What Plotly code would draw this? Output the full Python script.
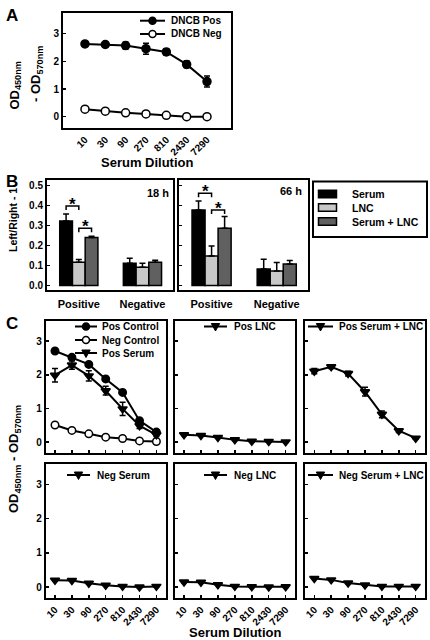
import plotly.graph_objects as go

# ---------------- data ----------------
dilutions = ["10", "30", "90", "270", "810", "2430", "7290"]

# Panel A
a_pos = [2.63, 2.61, 2.57, 2.46, 2.34, 1.89, 1.27]
a_pos_err = [0.05, 0.07, 0.12, 0.20, 0.12, 0.12, 0.20]
a_neg = [0.27, 0.20, 0.14, 0.10, 0.05, 0.00, 0.00]
a_neg_err = [0.02, 0.02, 0.02, 0.02, 0.02, 0.02, 0.02]

# Panel B
groups = ["Positive", "Negative"]
b_series = ["Serum", "LNC", "Serum + LNC"]
b18_serum = [0.323, 0.112]
b18_serum_err = [0.035, 0.025]
b18_lnc = [0.117, 0.092]
b18_lnc_err = [0.013, 0.020]
b18_sl = [0.240, 0.117]
b18_sl_err = [0.007, 0.010]
b66_serum = [0.378, 0.083]
b66_serum_err = [0.045, 0.049]
b66_lnc = [0.148, 0.073]
b66_lnc_err = [0.050, 0.042]
b66_sl = [0.287, 0.108]
b66_sl_err = [0.058, 0.017]

# Panel C
pos_control = [2.71, 2.52, 2.31, 1.88, 1.48, 0.64, 0.30]
pos_control_err = [0.04, 0.05, 0.06, 0.05, 0.04, 0.05, 0.04]
neg_control = [0.51, 0.35, 0.25, 0.15, 0.11, 0.04, 0.02]
neg_control_err = [0.02, 0.02, 0.02, 0.02, 0.02, 0.02, 0.02]
pos_serum = [1.99, 2.29, 1.97, 1.53, 0.99, 0.49, 0.22]
pos_serum_err = [0.20, 0.12, 0.15, 0.13, 0.20, 0.08, 0.05]
pos_lnc = [0.22, 0.20, 0.14, 0.07, 0.03, 0.02, 0.01]
pos_serum_lnc = [2.11, 2.24, 2.04, 1.50, 0.83, 0.34, 0.12]
pos_serum_lnc_err = [0.08, 0.05, 0.07, 0.13, 0.10, 0.05, 0.03]
neg_serum = [0.20, 0.19, 0.11, 0.05, 0.02, 0.00, 0.02]
neg_lnc = [0.15, 0.14, 0.07, 0.02, 0.01, 0.00, 0.01]
neg_serum_lnc = [0.25, 0.21, 0.12, 0.06, 0.02, 0.02, 0.02]
small_err = [0.02] * 7

# ---------------- layout helpers ----------------
W, H = 430, 640
FONT = "Liberation Sans, Arial, Helvetica, sans-serif"
BLACK = "#000000"
LIGHT = "#c8c8c8"
DARK = "#606060"


def fx(px):
    return px / W


def fy(py):
    return 1 - py / H


fig = go.Figure()
shapes = []
annotations = []


def axis_common(**kw):
    d = dict(showline=True, mirror=True, linewidth=2, linecolor=BLACK,
             showgrid=False, zeroline=False, ticks="inside", ticklen=3,
             tickwidth=1.5, tickcolor=BLACK,
             tickfont=dict(family=FONT, size=10, color=BLACK, weight="bold"))
    d.update(kw)
    return d


def text(xpx, ypx, t, size=10, xanchor="left", yanchor="middle", angle=0):
    annotations.append(dict(x=fx(xpx), y=fy(ypx), xref="paper", yref="paper",
                            text=t, showarrow=False, xanchor=xanchor,
                            yanchor=yanchor, textangle=angle,
                            font=dict(family=FONT, size=size, color=BLACK, weight="bold")))


def legend_line(x0, x1, ypx, symbol, label, tx):
    shapes.append(dict(type="line", xref="paper", yref="paper",
                       x0=fx(x0), x1=fx(x1), y0=fy(ypx), y1=fy(ypx),
                       line=dict(color=BLACK, width=2)))
    cx = (x0 + x1) / 2
    if symbol in ("circle", "circle-open"):
        r = 3.5
        shapes.append(dict(type="circle", xref="paper", yref="paper",
                           x0=fx(cx - r), x1=fx(cx + r), y0=fy(ypx + r), y1=fy(ypx - r),
                           fillcolor=BLACK if symbol == "circle" else "white",
                           line=dict(color=BLACK, width=1.5)))
    else:
        hw, top, bot = 4.2, 3.0, 4.5
        path = "M {:.5f},{:.5f} L {:.5f},{:.5f} L {:.5f},{:.5f} Z".format(
            fx(cx - hw), fy(ypx - top), fx(cx + hw), fy(ypx - top), fx(cx), fy(ypx + bot))
        shapes.append(dict(type="path", xref="paper", yref="paper", path=path,
                           fillcolor=BLACK, line=dict(color=BLACK, width=1)))
    text(tx, ypx, label, size=10)


def line_trace(y, err, symbol, xa, ya, msize=7):
    marker = dict(symbol=symbol, size=msize, color=BLACK,
                  line=dict(color=BLACK, width=1.5))
    if symbol == "circle-open":
        marker = dict(symbol="circle", size=msize, color="white",
                      line=dict(color=BLACK, width=1.5))
    tr = go.Scatter(x=dilutions, y=y, mode="lines+markers", xaxis=xa, yaxis=ya,
                    line=dict(color=BLACK, width=2), marker=marker, showlegend=False,
                    cliponaxis=False)
    if err is not None:
        tr.error_y = dict(type="data", array=err, visible=True, color=BLACK,
                          thickness=1.5, width=3)
    return tr


# ---------------- Panel A ----------------
fig.add_trace(line_trace(a_neg, a_neg_err, "circle-open", "x", "y", 8))
fig.add_trace(line_trace(a_pos, a_pos_err, "circle", "x", "y", 8))

layout = dict(
    xaxis=axis_common(domain=[fx(63), fx(231)], anchor="y", range=[-1.08, 7.18],
                      type="category", tickangle=-45, ticks=""),
    yaxis=axis_common(domain=[fy(128), fy(13)], anchor="x", range=[-0.41, 3.75],
                      tickvals=[0, 1, 2, 3]),
)
legend_line(140, 165, 20.7, "circle", "DNCB Pos", 169)
legend_line(140, 165, 34, "circle-open", "DNCB Neg", 169)
text(147, 162, "Serum Dilution", size=13, xanchor="center")
text(14.5, 86, "OD<sub>450nm</sub>", size=13, xanchor="center", angle=-90)
text(37, 74, "- OD<sub>570nm</sub>", size=13, xanchor="center", angle=-90)
text(12, 15, "A", size=17, xanchor="center")

# ---------------- Panel B ----------------
b_offsets = [-0.3, -0.1, 0.1]
b_colors = [BLACK, LIGHT, DARK]
b_sets = [
    ("x2", "y2", [b18_serum, b18_lnc, b18_sl], [b18_serum_err, b18_lnc_err, b18_sl_err]),
    ("x3", "y3", [b66_serum, b66_lnc, b66_sl], [b66_serum_err, b66_lnc_err, b66_sl_err]),
]
for xa, ya, vals, errs in b_sets:
    for name, v, e, off, col in zip(b_series, vals, errs, b_offsets, b_colors):
        fig.add_trace(go.Bar(x=groups, y=v, width=0.2, offset=off, name=name,
                             xaxis=xa, yaxis=ya, showlegend=False,
                             marker=dict(color=col, line=dict(color=BLACK, width=1.5)),
                             error_y=dict(type="data", symmetric=False, array=e,
                                          arrayminus=[0] * len(e), color=BLACK,
                                          thickness=1.5, width=3)))

b_x_common = dict(range=[-0.5, 1.48], type="category", ticks="",
                  tickfont=dict(family=FONT, size=11, color=BLACK, weight="bold"),
                  ticklabelstandoff=3)
layout["xaxis2"] = axis_common(domain=[fx(47), fx(173)], anchor="y2", **b_x_common)
layout["yaxis2"] = axis_common(domain=[fy(290), fy(180)], anchor="x2",
                               range=[-0.022, 0.528], dtick=0.1, tickformat=".1f")
layout["xaxis3"] = axis_common(domain=[fx(179), fx(308)], anchor="y3", **b_x_common)
layout["yaxis3"] = axis_common(domain=[fy(290), fy(180)], anchor="x3",
                               range=[-0.022, 0.528], dtick=0.1, showticklabels=False)

# significance brackets: (axis, left bar idx, right bar idx, level)
brackets = [("x2", "y2", 0, 1, 0.398), ("x2", "y2", 1, 2, 0.287),
            ("x3", "y3", 0, 1, 0.462), ("x3", "y3", 1, 2, 0.378)]
bar_centers = [o + 0.1 for o in b_offsets]
for xa, ya, i0, i1, lev in brackets:
    xl, xr = bar_centers[i0], bar_centers[i1]
    shapes.append(dict(type="path", xref=xa, yref=ya,
                       path="M {},{} L {},{} L {},{} L {},{}".format(
                           xl, lev - 0.02, xl, lev, xr, lev, xr, lev - 0.02),
                       line=dict(color=BLACK, width=1.5)))
    annotations.append(dict(x=(xl + xr) / 2, y=lev, xref=xa, yref=ya, text="*",
                            showarrow=False, yanchor="middle", yshift=2,
                            font=dict(family=FONT, size=17, color=BLACK, weight="bold")))

text(171, 193, "18 h", size=11, xanchor="right")
text(304, 191, "66 h", size=11, xanchor="right")
text(13, 220, "Left/Right - 1", size=10.5, xanchor="center", angle=-90)
text(12, 181, "B", size=17, xanchor="center")

# legend for B
shapes.append(dict(type="rect", xref="paper", yref="paper",
                   x0=fx(313), x1=fx(427), y0=fy(237), y1=fy(181.5),
                   line=dict(color=BLACK, width=2), fillcolor="white"))
for name, col, ypx in zip(b_series, b_colors, [194, 207.5, 221.5]):
    shapes.append(dict(type="rect", xref="paper", yref="paper",
                       x0=fx(318.5), x1=fx(336.5), y0=fy(ypx + 3.7), y1=fy(ypx - 3.7),
                       fillcolor=col, line=dict(color=BLACK, width=1.5)))
    text(350, ypx, name, size=10.5)

# ---------------- Panel C ----------------
col_px = [(45.7, 165.7), (174.7, 295), (305, 425)]
row_px = [(321, 453), (464, 598)]
c_panels = [
    (0, 0, [(neg_control, neg_control_err, "circle-open"),
            (pos_serum, pos_serum_err, "triangle-down"),
            (pos_control, pos_control_err, "circle")]),
    (0, 1, [(pos_lnc, small_err, "triangle-down")]),
    (0, 2, [(pos_serum_lnc, pos_serum_lnc_err, "triangle-down")]),
    (1, 0, [(neg_serum, small_err, "triangle-down")]),
    (1, 1, [(neg_lnc, small_err, "triangle-down")]),
    (1, 2, [(neg_serum_lnc, small_err, "triangle-down")]),
]
for k, (r, c, trs) in enumerate(c_panels):
    n = k + 4
    xa, ya = "x%d" % n, "y%d" % n
    for y, e, sym in trs:
        fig.add_trace(line_trace(y, e, sym, xa, ya, 7.5 if sym != "triangle-down" else 8))
    x0, x1 = col_px[c]
    y0, y1 = row_px[r]
    layout["xaxis%d" % n] = axis_common(domain=[fx(x0), fx(x1)], anchor=ya,
                                        range=[-0.55, 6.55], type="category",
                                        tickangle=-45, showticklabels=(r == 1))
    layout["yaxis%d" % n] = axis_common(domain=[fy(y1), fy(y0)], anchor=xa,
                                        range=[-0.32, 3.6], tickvals=[0, 1, 2, 3],
                                        showticklabels=(c == 0))

legend_line(75, 97, 326.5, "circle", "Pos Control", 100)
legend_line(75, 97, 340, "circle-open", "Neg Control", 100)
legend_line(75, 97, 353, "triangle-down", "Pos Serum", 100)
legend_line(204, 227, 326.5, "triangle-down", "Pos LNC", 232)
legend_line(308, 333, 326.5, "triangle-down", "Pos Serum + LNC", 337)
legend_line(67, 90, 475, "triangle-down", "Neg Serum", 95)
legend_line(204, 227, 475, "triangle-down", "Neg LNC", 232)
legend_line(308, 333, 475, "triangle-down", "Neg Serum + LNC", 337)

text(235, 632, "Serum Dilution", size=13, xanchor="center")
text(14, 459, "OD<sub>450nm</sub> - OD<sub>570nm</sub>", size=13, xanchor="center", angle=-90)
text(12, 323, "C", size=17, xanchor="center")

layout.update(dict(
    width=W, height=H, autosize=False,
    margin=dict(l=0, r=0, t=0, b=0),
    paper_bgcolor="white", plot_bgcolor="white",
    font=dict(family=FONT, size=10, color=BLACK, weight="bold"),
    showlegend=False, barmode="overlay", hovermode=False,
    shapes=shapes, annotations=annotations,
))
fig.update_layout(layout)
fig.write_html("out.html",
               config={"displayModeBar": False, "staticPlot": True},
               post_script="document.body.style.margin='0';"
                           "document.body.style.overflow='hidden';")
